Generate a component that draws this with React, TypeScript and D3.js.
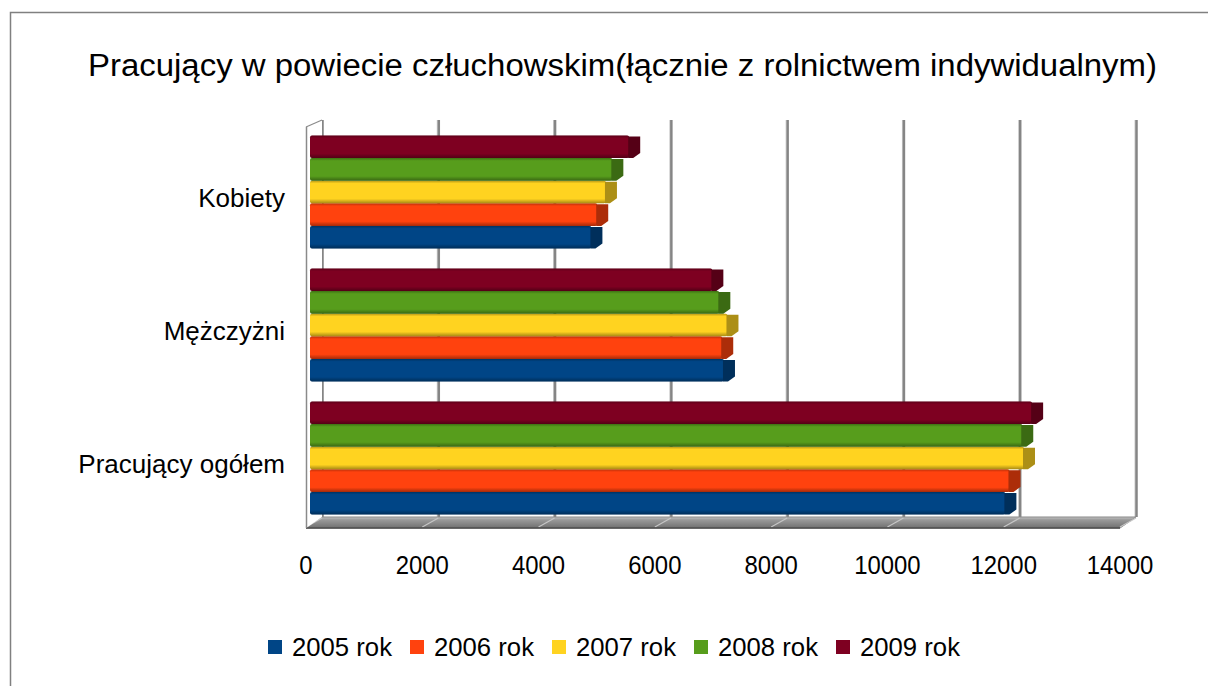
import React from 'react';
import * as d3 from 'd3';

// chart values
const categories = ['Kobiety', 'Mężczyżni', 'Pracujący ogółem'];
const years = ['2005 rok', '2006 rok', '2007 rok', '2008 rok', '2009 rok'];
const kobiety = [4840, 4940, 5090, 5200, 5490];
const mezczyzni = [7120, 7090, 7180, 7040, 6920];
const ogolem = [11960, 12030, 12280, 12250, 12420];
const ticks = [0, 2000, 4000, 6000, 8000, 10000, 12000, 14000];
const colors = ['#004586', '#ff420e', '#ffd320', '#579d1c', '#7e0021'];

const seriesByCategory = [kobiety, mezczyzni, ogolem];

const W = 1208;
const H = 686;
const font = '"Liberation Sans", Arial, sans-serif';

const App = () => {
  // front plane, back wall and bar scales (3D offset 16 right, 11 up)
  const xFront = d3.scaleLinear().domain([0, 14000]).range([306, 1120]);
  const xBack = d3.scaleLinear().domain([0, 14000]).range([322, 1136]);
  const xBar = d3.scaleLinear().domain([0, 14000]).range([310, 1124]);
  const floorFront = 528;
  const floorBack = 517;
  const wallTop = 120;

  const yScale = d3.scaleBand()
    .domain(categories)
    .range([125.5, 524.5])
    .paddingInner(0.15)
    .paddingOuter(0.075);

  // 2009 on top, 2005 at the bottom of each group
  const yInner = d3.scaleBand()
    .domain([...years].reverse())
    .range([0, yScale.bandwidth()]);

  const h = yInner.bandwidth();

  return (
    <svg width={W} height={H} style={{ display: 'block', position: 'absolute', left: 0, top: 0 }}>
      <defs>
        <linearGradient id="barShade" x1="0" y1="0" x2="0" y2="1">
          <stop offset="0" stopColor="#000" stopOpacity="0.28" />
          <stop offset="0.12" stopColor="#000" stopOpacity="0" />
          <stop offset="0.8" stopColor="#000" stopOpacity="0" />
          <stop offset="1" stopColor="#000" stopOpacity="0.35" />
        </linearGradient>
        <linearGradient id="floorShade" x1="0" y1="0" x2="0" y2="1">
          <stop offset="0" stopColor="#c4c4c4" />
          <stop offset="0.25" stopColor="#9a9a9a" />
          <stop offset="1" stopColor="#707070" />
        </linearGradient>
      </defs>
      <rect x={0} y={0} width={W} height={H} fill="#fff" />
      <rect x={10.5} y={12.5} width={1400} height={900} fill="none" stroke="#808080" strokeWidth={1.5} />

      <text x={622.5} y={76} textAnchor="middle" fontFamily={font} fontSize={31}
        textLength={1069} lengthAdjust="spacingAndGlyphs" fill="#000">
        Pracujący w powiecie człuchowskim(łącznie z rolnictwem indywidualnym)
      </text>

      {/* back wall grid */}
      {ticks.map(t => (
        <g key={'g' + t}>
          <line x1={xBack(t) - 1} x2={xBack(t) - 1} y1={wallTop} y2={floorBack} stroke="#c8c8c8" strokeWidth={1} />
          <line x1={xBack(t) + 0.5} x2={xBack(t) + 0.5} y1={wallTop} y2={floorBack} stroke="#858585" strokeWidth={2.5} />
        </g>
      ))}

      {/* floor */}
      <polygon
        points={`${xFront(0)},${floorFront} ${xFront(14000)},${floorFront} ${xBack(14000)},${floorBack} ${xBack(0)},${floorBack}`}
        fill="url(#floorShade)" stroke="#888" strokeWidth={1} />
      {ticks.map(t => (
        <line key={'f' + t} x1={xFront(t)} y1={floorFront - 1} x2={xBack(t)} y2={floorBack + 1} stroke="#c6c6c6" strokeWidth={1.2} />
      ))}
      <line x1={xFront(0)} x2={xFront(14000)} y1={floorFront} y2={floorFront} stroke="#4a4a4a" strokeWidth={1.5} />

      {/* left wall */}
      <polygon
        points={`${xFront(0)},${floorFront} ${xBack(0)},${floorBack} ${xBack(0)},${wallTop} ${xFront(0)},${wallTop + 7}`}
        fill="#fff" stroke="none" />
      <line x1={xFront(0) + 0.5} x2={xFront(0) + 0.5} y1={wallTop + 7} y2={floorFront} stroke="#8a8a8a" strokeWidth={1.5} />
      <line x1={xFront(0)} y1={wallTop + 7} x2={xBack(0)} y2={wallTop} stroke="#8a8a8a" strokeWidth={1.2} />

      {/* bars */}
      {categories.map((c, ci) => (
        <g key={c} transform={`translate(0,${yScale(c)})`}>
          {years.map((yr, si) => {
            const v = seriesByCategory[ci][si];
            const y0 = yInner(yr) as number;
            const xs = xBar(0);
            const xe = xBar(v);
            const col = colors[si];
            const dark = d3.color(col)!.darker(1.1).toString();
            return (
              <g key={yr}>
                <rect x={xs} y={y0} width={xe - xs} height={h} rx={2} fill={col} />
                <rect x={xs} y={y0} width={xe - xs} height={h} rx={2} fill="url(#barShade)" />
                <polygon
                  points={`${xe - 1},${y0 + 1} ${xe + 11},${y0 + 1} ${xe + 11},${y0 + h - 5} ${xe + 4},${y0 + h} ${xe - 1},${y0 + h}`}
                  fill={dark} />
              </g>
            );
          })}
          <text x={285} y={yScale.bandwidth() / 2 + 15} textAnchor="end" fontFamily={font} fontSize={26} fill="#000">
            {c}
          </text>
        </g>
      ))}

      {/* axis labels */}
      {ticks.map(t => {
        const s = String(t);
        return (
          <text key={'t' + t} x={xFront(t)} y={574} textAnchor="middle" fontFamily={font} fontSize={25}
            textLength={s.length * 13.3} lengthAdjust="spacingAndGlyphs" fill="#000">
            {s}
          </text>
        );
      })}

      {/* legend */}
      {years.map((yr, i) => (
        <g key={'l' + yr} transform={`translate(${268 + i * 142},640)`}>
          <rect x={0} y={0} width={14} height={14} fill={colors[i]} />
          <text x={24} y={16} fontFamily={font} fontSize={25} textLength={100} lengthAdjust="spacingAndGlyphs" fill="#000">
            {yr}
          </text>
        </g>
      ))}
    </svg>
  );
};

export default App;
